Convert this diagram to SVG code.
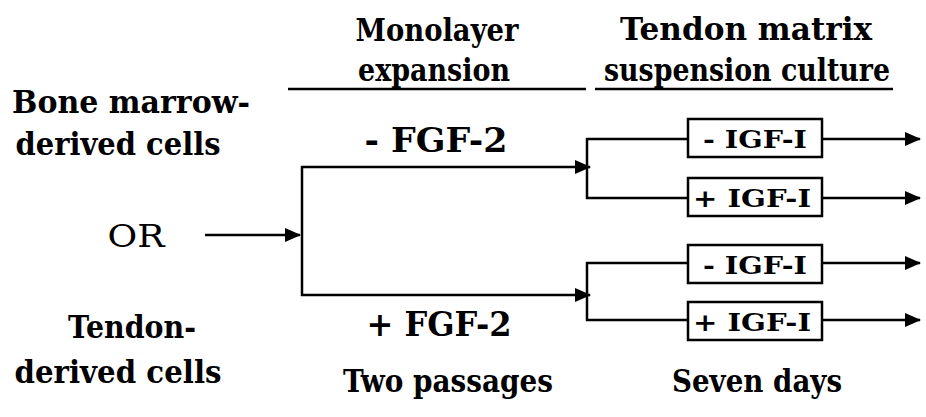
<svg xmlns="http://www.w3.org/2000/svg" width="926" height="417" viewBox="0 0 926 417">
<style>
.t{font-family:"DejaVu Serif","Liberation Serif",serif;font-weight:bold;fill:#000;text-anchor:middle}
.r{font-weight:normal}
.ln{stroke:#000;stroke-width:2.5;fill:none}
.bx{stroke:#000;stroke-width:2.5;fill:#fff}
</style>
<defs>
<marker id="ah" markerWidth="16" markerHeight="14" refX="15" refY="7" orient="auto" markerUnits="userSpaceOnUse">
<path d="M0,0 L16,7 L0,14 Z" fill="#000"/>
</marker>
</defs>
<rect width="926" height="417" fill="#fff"/>
<g id="headers">
<text class="t" x="437" y="41" font-size="32" textLength="163" lengthAdjust="spacingAndGlyphs">Monolayer</text>
<text class="t" x="434" y="81" font-size="32" textLength="152" lengthAdjust="spacingAndGlyphs">expansion</text>
<text class="t" x="746" y="40" font-size="32" textLength="252" lengthAdjust="spacingAndGlyphs">Tendon matrix</text>
<text class="t" x="747" y="81" font-size="32" textLength="286" lengthAdjust="spacingAndGlyphs">suspension culture</text>
<line class="ln" x1="288" y1="89" x2="586" y2="89" stroke-width="2"/>
<line class="ln" x1="595" y1="89" x2="893" y2="89" stroke-width="2"/>
</g>
<g id="source">
<text class="t" x="131" y="113" font-size="31" textLength="238" lengthAdjust="spacingAndGlyphs">Bone marrow-</text>
<text class="t" x="118" y="155" font-size="31" textLength="205" lengthAdjust="spacingAndGlyphs">derived cells</text>
<text class="t r" x="136" y="247" font-size="31" textLength="57" lengthAdjust="spacingAndGlyphs">OR</text>
<text class="t" x="132" y="338" font-size="31" textLength="128" lengthAdjust="spacingAndGlyphs">Tendon-</text>
<text class="t" x="118" y="383" font-size="31" textLength="207" lengthAdjust="spacingAndGlyphs">derived cells</text>
</g>
<g id="fgf-minus"><text class="t" x="436" y="152" font-size="33" textLength="143" lengthAdjust="spacingAndGlyphs">- FGF-2</text></g>
<g id="fgf-plus"><text class="t" x="439" y="336" font-size="33" textLength="145" lengthAdjust="spacingAndGlyphs">+ FGF-2</text></g>
<g id="igf1"><rect class="bx" x="688" y="119" width="134" height="38"/><text class="t" x="755" y="148" font-size="24" textLength="104" lengthAdjust="spacingAndGlyphs">- IGF-I</text></g>
<g id="igf2"><rect class="bx" x="688" y="178" width="134" height="38"/><text class="t" x="752" y="207" font-size="24" textLength="118" lengthAdjust="spacingAndGlyphs">+ IGF-I</text></g>
<g id="igf3"><rect class="bx" x="688" y="245" width="134" height="38"/><text class="t" x="755" y="274" font-size="24" textLength="104" lengthAdjust="spacingAndGlyphs">- IGF-I</text></g>
<g id="igf4"><rect class="bx" x="688" y="302" width="134" height="38"/><text class="t" x="752" y="331" font-size="24" textLength="118" lengthAdjust="spacingAndGlyphs">+ IGF-I</text></g>
<g id="footer">
<text class="t" x="448" y="392" font-size="31" textLength="210" lengthAdjust="spacingAndGlyphs">Two passages</text>
<text class="t" x="757" y="392" font-size="31" textLength="170" lengthAdjust="spacingAndGlyphs">Seven days</text>
</g>
<g id="connectors">
<line class="ln" x1="205" y1="235" x2="300" y2="235" marker-end="url(#ah)"/>
<line class="ln" x1="302" y1="166" x2="302" y2="296"/>
<line class="ln" x1="301" y1="167" x2="590" y2="167" marker-end="url(#ah)"/>
<line class="ln" x1="301" y1="295" x2="590" y2="295" marker-end="url(#ah)"/>
<line class="ln" x1="587" y1="138" x2="587" y2="199"/>
<line class="ln" x1="587" y1="262" x2="587" y2="321"/>
<line class="ln" x1="586" y1="139" x2="688" y2="139"/>
<line class="ln" x1="586" y1="198" x2="688" y2="198"/>
<line class="ln" x1="586" y1="263" x2="688" y2="263"/>
<line class="ln" x1="586" y1="320" x2="688" y2="320"/>
<line class="ln" x1="822" y1="139" x2="920" y2="139" marker-end="url(#ah)"/>
<line class="ln" x1="822" y1="198" x2="920" y2="198" marker-end="url(#ah)"/>
<line class="ln" x1="822" y1="263" x2="920" y2="263" marker-end="url(#ah)"/>
<line class="ln" x1="822" y1="320" x2="920" y2="320" marker-end="url(#ah)"/>
</g>
</svg>
